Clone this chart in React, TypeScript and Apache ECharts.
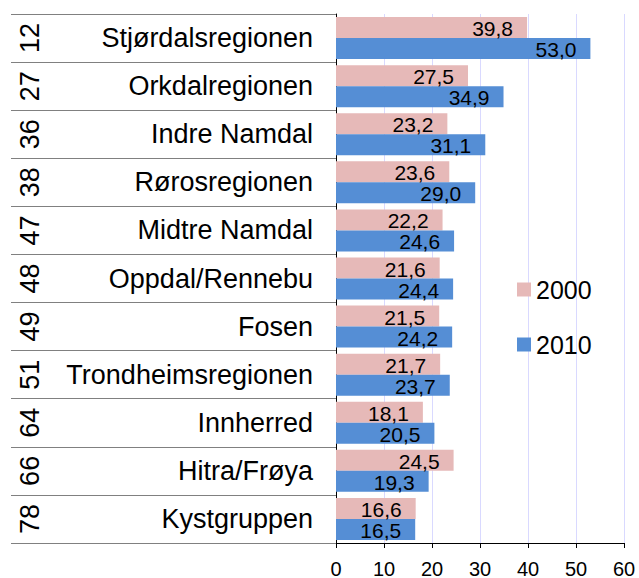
import React, { useEffect, useRef } from "react";
import * as echarts from "echarts";

const regions = [
  "Stjørdalsregionen",
  "Orkdalregionen",
  "Indre Namdal",
  "Rørosregionen",
  "Midtre Namdal",
  "Oppdal/Rennebu",
  "Fosen",
  "Trondheimsregionen",
  "Innherred",
  "Hitra/Frøya",
  "Kystgruppen",
];
const ranks = ["12", "27", "36", "38", "47", "48", "49", "51", "64", "66", "78"];
const values2000 = [39.8, 27.5, 23.2, 23.6, 22.2, 21.6, 21.5, 21.7, 18.1, 24.5, 16.6];
const values2010 = [53.0, 34.9, 31.1, 29.0, 24.6, 24.4, 24.2, 23.7, 20.5, 19.3, 16.5];
const xTicks = { min: 0, max: 60, interval: 10 };

const FONT = "'Liberation Sans', Arial, sans-serif";

export default function App() {
  const ref = useRef<HTMLDivElement>(null);
  useEffect(() => {
    if (!ref.current) return;
    const chart = echarts.init(ref.current, null, { renderer: "svg" });
    const fmt = (p: any) => Number(p.value).toFixed(1).replace(".", ",");
    chart.setOption({
      animation: false,
      textStyle: { fontFamily: FONT },
      grid: {
        left: 336,
        right: 15,
        top: 14,
        bottom: 35,
        containLabel: false,
        outerBoundsMode: "none",
      },
      legend: {
        orient: "vertical",
        left: 517,
        top: 277,
        padding: 0,
        itemWidth: 14,
        itemHeight: 14,
        itemGap: 30,
        icon: "rect",
        textStyle: { fontSize: 25, color: "#000", fontFamily: FONT },
        data: ["2000", "2010"],
      },
      xAxis: {
        type: "value",
        min: xTicks.min,
        max: xTicks.max,
        interval: xTicks.interval,
        axisLine: { show: true, lineStyle: { color: "#000", width: 1 } },
        axisTick: { show: true, length: 5, lineStyle: { color: "#000" } },
        axisLabel: {
          fontSize: 20,
          lineHeight: 17,
          color: "#000",
          margin: 17,
          fontFamily: FONT,
        },
        splitLine: { show: true, lineStyle: { color: "#D9D9FF", width: 1 } },
      },
      yAxis: [
        {
          type: "category",
          data: regions,
          inverse: true,
          position: "left",
          axisLine: { show: true, lineStyle: { color: "#000", width: 1 } },
          axisTick: { show: true, length: 325, lineStyle: { color: "#808080", width: 1 } },
          axisLabel: { fontSize: 27, color: "#000", margin: 23, fontFamily: FONT },
          splitLine: { show: false },
        },
        {
          type: "category",
          data: ranks,
          inverse: true,
          position: "left",
          offset: 0,
          axisLine: { show: false },
          axisTick: { show: false },
          axisLabel: {
            fontSize: 27,
            color: "#000",
            rotate: 90,
            margin: 306,
            align: "center",
            verticalAlign: "middle",
            fontFamily: FONT,
          },
          splitLine: { show: false },
        },
      ],
      series: [
        {
          name: "2000",
          type: "bar",
          yAxisIndex: 0,
          data: values2000,
          barWidth: 21,
          barGap: "0%",
          itemStyle: { color: "#E6B9B8" },
          label: {
            show: true,
            position: "insideRight",
            distance: 14,
            offset: [0, 1],
            fontSize: 21,
            color: "#000",
            fontFamily: FONT,
            formatter: fmt,
          },
        },
        {
          name: "2010",
          type: "bar",
          yAxisIndex: 0,
          data: values2010,
          barWidth: 21,
          barGap: "0%",
          itemStyle: { color: "#558ED5" },
          label: {
            show: true,
            position: "insideRight",
            distance: 14,
            offset: [0, 1],
            fontSize: 21,
            color: "#000",
            fontFamily: FONT,
            formatter: fmt,
          },
        },
      ],
    });
    return () => chart.dispose();
  }, []);
  return (
    <div
      ref={ref}
      style={{ position: "absolute", left: 0, top: 0, width: 639, height: 578, background: "#fff" }}
    />
  );
}
